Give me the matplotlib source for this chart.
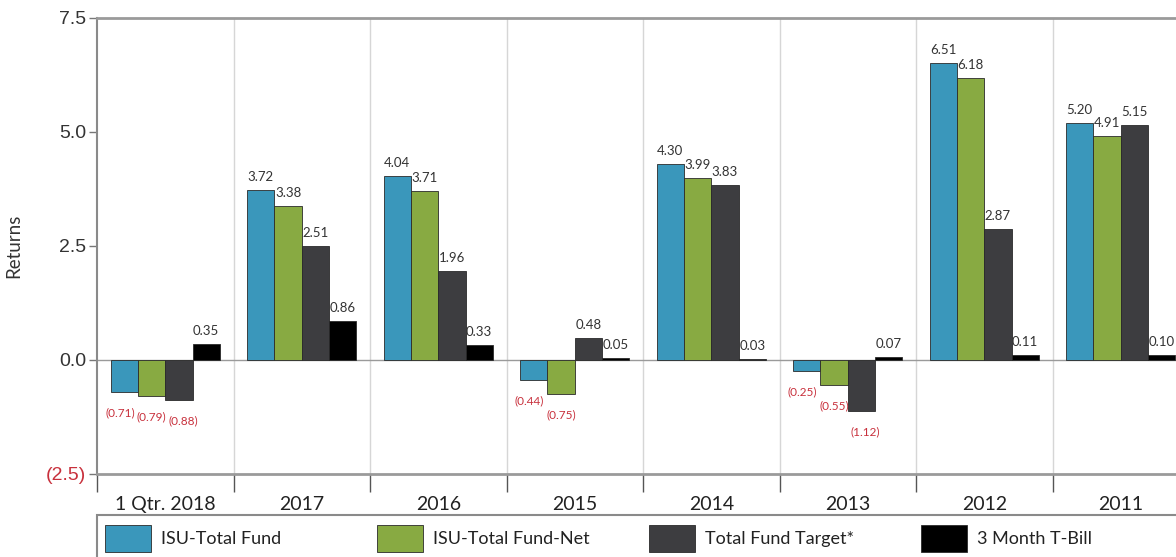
import numpy as np
import matplotlib
matplotlib.use('Agg')
import matplotlib.pyplot as plt
from matplotlib.patches import Rectangle

# data
categories = ['1 Qtr. 2018', '2017', '2016', '2015', '2014', '2013', '2012', '2011']
series_names = ['ISU-Total Fund', 'ISU-Total Fund-Net', 'Total Fund Target*', '3 Month T-Bill']
isu_total = [-0.71, 3.72, 4.04, -0.44, 4.30, -0.25, 6.51, 5.20]
isu_net = [-0.79, 3.38, 3.71, -0.75, 3.99, -0.55, 6.18, 4.91]
fund_target = [-0.88, 2.51, 1.96, 0.48, 3.83, -1.12, 2.87, 5.15]
tbill = [0.35, 0.86, 0.33, 0.05, 0.03, 0.07, 0.11, 0.10]
y_ticks = [-2.5, 0.0, 2.5, 5.0, 7.5]

colors = ['#3a97bb', '#88aa42', '#3d3d40', '#000000']
red = '#c8303c'
grey_txt = '#333333'

W, H = 1176, 557
fig = plt.figure(figsize=(W / 100, H / 100), dpi=100)
fig.patch.set_facecolor('white')

# axes runs past the right edge, as in the cropped original
ax = fig.add_axes([97 / W, 1 - 474 / H, (1189 - 97) / W, (474 - 18) / H])

n = len(categories)
x = np.arange(n)
bw = 0.2
all_series = [isu_total, isu_net, fund_target, tbill]
neg_dx = [-3, 0, 3, 0]  # nudge crowded negative labels apart

for j, vals in enumerate(all_series):
    pos = x + 0.2 + bw * j
    ax.bar(pos, vals, width=bw, color=colors[j], edgecolor='#2a2a2a',
           linewidth=0.6, zorder=3)
    for px, v in zip(pos, vals):
        if v >= 0:
            ax.annotate(f'{v:.2f}', (px, v), xytext=(0, 5), textcoords='offset points',
                        ha='center', va='bottom', fontsize=9.5, color=grey_txt,
                        family='Lato', zorder=4)
        else:
            ax.annotate(f'({abs(v):.2f})', (px, v), xytext=(neg_dx[j], -11),
                        textcoords='offset points', ha='center', va='top',
                        fontsize=8.5, color=red, family='Lato', zorder=4)

ax.set_xlim(0, n)
ax.set_ylim(-2.5, 7.5)

# vertical separators between groups
for b in range(1, n):
    ax.axvline(b, color='#d6d6d6', linewidth=1, zorder=1)
ax.axhline(0, color='#9a9a9a', linewidth=1, zorder=2)

# y axis
ax.set_yticks(y_ticks)
ylabels = [f'({abs(t):.1f})' if t < 0 else f'{t:.1f}' for t in y_ticks]
ax.set_yticklabels(ylabels, fontsize=14, family='Liberation Sans')
for lab, t in zip(ax.get_yticklabels(), y_ticks):
    lab.set_color(red if t < 0 else grey_txt)
ax.tick_params(axis='y', length=6, width=1, color='#777777', pad=2)
ax.set_ylabel('Returns', fontsize=13.5, family='Lato', color=grey_txt)
ax.yaxis.set_label_coords(-0.068, 0.5)

# x axis: boundary ticks, labels centred in groups
ax.set_xticks(np.arange(0, n + 1))
ax.set_xticklabels([])
ax.tick_params(axis='x', which='major', length=13, width=1, color='#555555')
ax.set_xticks(x + 0.5, minor=True)
ax.set_xticklabels(categories, minor=True, fontsize=14, family='Lato', color='#222222')
ax.tick_params(axis='x', which='minor', length=0, pad=16)

for s in ['top', 'bottom']:
    ax.spines[s].set_color('#9a9a9a')
    ax.spines[s].set_linewidth(2)
ax.spines['left'].set_color('#8a8a8a')
ax.spines['left'].set_linewidth(1.5)
ax.spines['right'].set_visible(False)

# legend box drawn by hand below the axis
tf = fig.transFigure
fig.patches.append(Rectangle((97 / W, -0.05), (1195 - 97) / W, 0.05 + (H - 515) / H,
                             transform=tf, fill=False, edgecolor='#8a8a8a', linewidth=1.5))
for j, name in enumerate(series_names):
    x0 = 105 + 272 * j
    fig.patches.append(Rectangle((x0 / W, 1 - 552 / H), 46 / W, 27 / H, transform=tf,
                                 facecolor=colors[j], edgecolor='#2a2a2a', linewidth=0.6))
    fig.text((x0 + 56) / W, 1 - 539 / H, name, transform=tf, fontsize=13,
             family='Lato', color='#222222', va='center', ha='left')

fig.savefig('out.png', dpi=100, facecolor='white')
